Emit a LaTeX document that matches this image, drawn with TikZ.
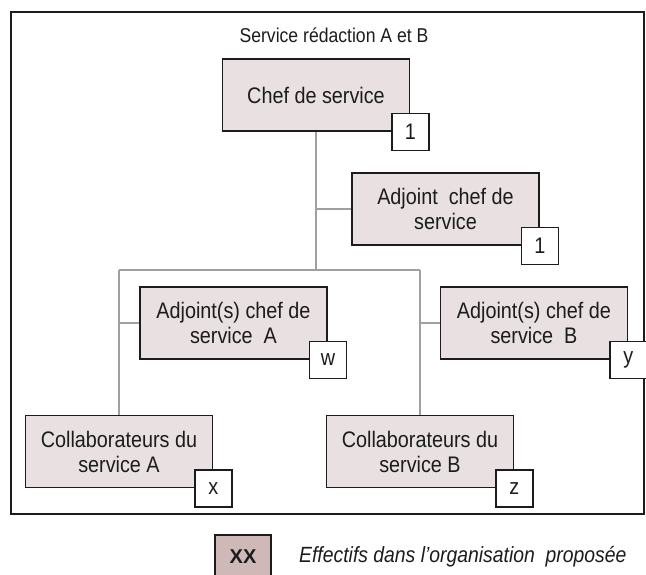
\documentclass[tikz,border=0pt]{standalone}
\usepackage{fontspec}
\setmainfont{Liberation Sans}[FakeStretch=0.88]
\newfontfamily\legfont{Liberation Sans}
\begin{document}
\definecolor{boxfill}{RGB}{233,225,225}
\definecolor{legfill}{RGB}{206,184,184}
\definecolor{inkline}{RGB}{28,28,28}
\definecolor{linkgray}{RGB}{160,160,160}
\begin{tikzpicture}[x=1pt,y=-1pt,
  unit/.style={rectangle, draw=inkline, fill=boxfill, line width=1.8pt,
    minimum width=187pt, minimum height=72pt, align=center, inner sep=0pt,
    text=inkline, font=\fontsize{22.5}{25}\selectfont},
  badge/.style={rectangle, draw=inkline, fill=white, line width=1.8pt,
    minimum size=37pt, inner sep=0pt, text=inkline,
    font=\fontsize{22.5}{25}\selectfont},
  link/.style={draw=linkgray, line width=2pt}]
\useasboundingbox (0,0) rectangle (646,574);

% outer frame
\draw[inkline, line width=1.6pt] (11,12) rectangle (644,514);

% title
\node[text=inkline, font=\fontsize{20}{24}\selectfont] (title) at (334,35) {Service rédaction A et B};

% junction points of the tree
\coordinate (bus) at (316,270);
\coordinate (busL) at (119,270);
\coordinate (busR) at (420,270);
\coordinate (tapAdj) at (316,209);
\coordinate (tapA) at (119,323);
\coordinate (tapB) at (420,323);

% boxes
\node[unit] (chef) at (316,95) {Chef de service};
\node[unit] (adj) at (445.5,209) {Adjoint~ chef de\\service};
\node[unit] (adjA) at (233.5,323) {Adjoint(s) chef de\\service~ A};
\node[unit] (adjB) at (534,323) {Adjoint(s) chef de\\service~ B};
\node[unit] (colA) at (119,451.5) {Collaborateurs du\\service A};
\node[unit] (colB) at (420,451.5) {Collaborateurs du\\service B};

% connectors
\draw[link] (chef.south) -- (bus);
\draw[link] (busL) -- (busR);
\draw[link] (tapAdj) -- (adj.west);
\draw[link] (busL) -- (colA.north);
\draw[link] (busR) -- (colB.north);
\draw[link] (tapA) -- (adjA.west);
\draw[link] (tapB) -- (adjB.west);

% head-count badges
\node[badge] (nChef) at (chef.south east) {1};
\node[badge] (nAdj) at (adj.south east) {1};
\node[badge] (nA) at (adjA.south east) {w};
\node[badge] (nB) at (adjB.south east) {y};
\node[badge] (nColA) at (colA.south east) {x};
\node[badge] (nColB) at (colB.south east) {z};

% legend
\node[rectangle, draw=inkline, fill=legfill, line width=1.8pt,
  minimum width=56pt, minimum height=44pt, inner sep=0pt, text=inkline,
  font=\legfont\bfseries\fontsize{20}{24}\selectfont] (leg) at (243,557) {XX};
\node[anchor=west, inner sep=0pt, text=inkline, font=\fontsize{22}{25}\selectfont\itshape] (legtxt) at (299,557) {Effectifs dans l’organisation\ \ proposée};
\end{tikzpicture}
\end{document}
